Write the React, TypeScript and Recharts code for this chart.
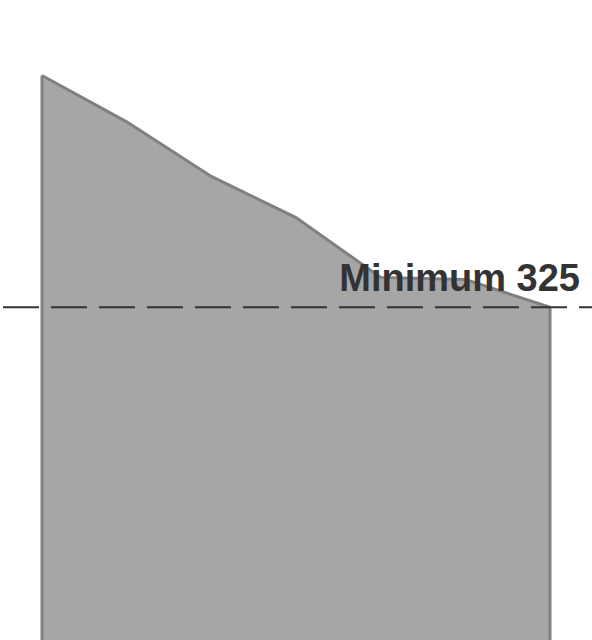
import { Area, AreaChart, ReferenceLine, XAxis, YAxis } from "recharts";

const periods = ["1", "2", "3", "4", "5", "6", "7"];
const totals = [550, 505, 452, 412, 354, 352, 325];
const yTicks = [0, 100, 200, 300, 400, 500, 600];
const minimum = 325;

const data = periods.map((period, i) => ({ period, total: totals[i] }));

const FILL = "#a6a6a6";
const EDGE = "#808080";

export default function App() {
  const first = periods[0];
  const last = periods[periods.length - 1];

  return (
    <div
      style={{
        position: "absolute",
        left: 0,
        top: 0,
        width: 592,
        height: 640,
        overflow: "hidden",
        background: "#fff",
      }}
    >
      <div style={{ position: "absolute", left: -59, top: 0 }}>
        <AreaChart
          width={655}
          height={700}
          data={data}
          margin={{ top: 24, right: 0, bottom: 58, left: 0 }}
        >
          <XAxis dataKey="period" hide padding={{ left: 41, right: 46 }} />
          {/* axis sits just off the left edge, only the tick ends show */}
          <YAxis
            width={60}
            domain={[0, 600]}
            ticks={yTicks}
            axisLine={false}
            tickLine={{ stroke: "#cccccc" }}
            tick={false}
          />
          <Area
            type="linear"
            dataKey="total"
            stroke={EDGE}
            strokeWidth={3}
            fill={FILL}
            fillOpacity={1}
            isAnimationActive={false}
          />
          <ReferenceLine
            segment={[
              { x: first, y: 0 },
              { x: first, y: totals[0] },
            ]}
            stroke={EDGE}
            strokeWidth={3}
          />
          <ReferenceLine
            segment={[
              { x: last, y: 0 },
              { x: last, y: totals[totals.length - 1] },
            ]}
            stroke={EDGE}
            strokeWidth={3}
          />
          <ReferenceLine
            y={minimum}
            stroke="#333333"
            strokeWidth={2}
            strokeDasharray="36 12"
            strokeDashoffset={46}
            label={{
              value: `Minimum ${minimum}`,
              position: "insideBottomRight",
              offset: 16,
              fill: "#333333",
              fontSize: 38,
              fontWeight: "bold",
              fontFamily: "'Liberation Sans', Arial, sans-serif",
            }}
          />
        </AreaChart>
      </div>
    </div>
  );
}
